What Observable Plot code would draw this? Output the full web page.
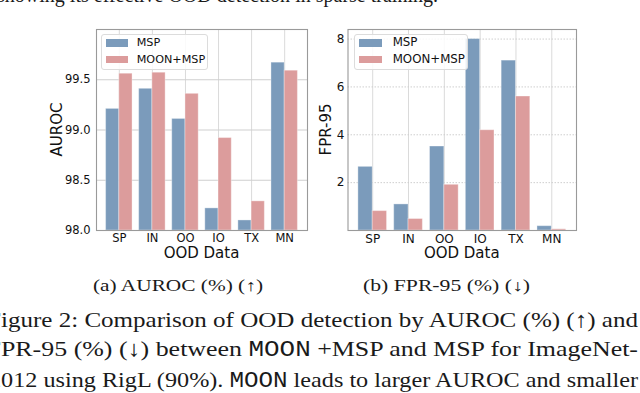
<!DOCTYPE html>
<html><head><meta charset="utf-8">
<script src="https://cdn.jsdelivr.net/npm/d3@7"></script>
<script src="https://cdn.jsdelivr.net/npm/@observablehq/plot@0.6"></script>
<style>
html,body{margin:0;padding:0;background:#fff;}
#wrap{position:relative;width:640px;height:393px;overflow:hidden;background:#fff;}
.chart{position:absolute;top:0;}
.chart svg{overflow:visible;}
.legend{position:absolute;box-sizing:border-box;border:1px solid #dcdcdc;border-radius:3px;background:rgba(255,255,255,0.85);font-family:"DejaVu Sans",sans-serif;color:#111;}
.legend .sw{position:absolute;}
.legend .lb{position:absolute;line-height:1;white-space:nowrap;}
#paper{position:absolute;left:0;top:0;pointer-events:none;}
</style></head><body>
<div id="wrap"></div>
<script>
// ---- data ----
const categories = ["SP", "IN", "OO", "IO", "TX", "MN"];
const series = ["MSP", "MOON+MSP"];
const seriesColors = ["#7b9bbb", "#dc9c9c"];
const aurocMSP  = [99.21, 99.41, 99.11, 98.22, 98.10, 99.67];
const aurocMOON = [99.56, 99.57, 99.36, 98.92, 98.29, 99.59];
const fprMSP  = [2.66, 1.09, 3.51, 8.00, 7.10, 0.18];
const fprMOON = [0.81, 0.48, 1.91, 4.19, 5.60, 0.05];
const aurocTicks = [98.0, 98.5, 99.0, 99.5];
const fprTicks = [2, 4, 6, 8];
const xLabel = "OOD Data";
const aurocLabel = "AUROC";
const fprLabel = "FPR-95";
const captionA = "(a) AUROC (%) (↑)";
const captionB = "(b) FPR-95 (%) (↓)";

const positions = categories.map((c, i) => i);

function rowsOf(a, b) {
  const rows = [];
  categories.forEach((c, i) => {
    rows.push({cat: c, i, s: 0, series: series[0], value: a[i]});
    rows.push({cat: c, i, s: 1, series: series[1], value: b[i]});
  });
  return rows;
}

const wrap = document.getElementById("wrap");
const labelSpecs = [];

function makeChart({a, b, yDomain, yTicks, base, ylabel, width, left, marginLeft, marginRight, tickPad, labelOffset, hdash, fmt, tickFs}) {
  const rows = rowsOf(a, b);
  const marginTop = 29, marginBottom = 35, height = 265;
  const chart = Plot.plot({
    width, height,
    marginLeft, marginRight, marginTop, marginBottom,
    style: {fontFamily: "DejaVu Sans, sans-serif", color: "#111", background: "transparent"},
    x: {type: "linear", domain: [-0.69, 5.69]},
    y: {domain: yDomain},
    color: {domain: series, range: seriesColors},
    marks: [
      Plot.gridX(positions, {stroke: "#dadada", strokeOpacity: 1}),
      Plot.gridY(yTicks, {stroke: "#cfcfcf", strokeOpacity: 1, strokeDasharray: hdash}),
      Plot.rect(rows, {
        x1: d => d.i - 0.4 + 0.4 * d.s,
        x2: d => d.i + 0.4 * d.s,
        y1: d => base,
        y2: "value",
        fill: "series",
        stroke: "#fff", strokeOpacity: 0.35, strokeWidth: 1
      }),
      Plot.frame({stroke: "#9a9a9a", strokeWidth: 1.1}),
      Plot.axisX(positions, {tickSize: 0, tickPadding: 3.5, tickFormat: i => categories[i],
        fontSize: tickFs, label: null}),
      Plot.axisY(yTicks, {tickSize: 0, tickPadding: tickPad, tickFormat: fmt,
        fontSize: tickFs, label: null})
    ]
  });
  // enforce tick label font size
  chart.querySelectorAll('g[aria-label$="tick label"]').forEach(g => {
    g.setAttribute("font-size", tickFs);
    g.style.fontSize = tickFs + "px";
  });
  const div = document.createElement("div");
  div.className = "chart";
  div.style.left = left + "px";
  div.appendChild(chart);
  wrap.appendChild(div);
  const fx0 = left + marginLeft, fx1 = left + width - marginRight;
  const fy0 = marginTop, fy1 = height - marginBottom;
  labelSpecs.push({text: xLabel, x: (fx0 + fx1) / 2, y: fy1 + 27.5, rotate: false});
  labelSpecs.push({text: ylabel, x: fx0 - labelOffset, y: (fy0 + fy1) / 2, rotate: true});
}

makeChart({a: aurocMSP, b: aurocMOON, yDomain: [98, 100.0], yTicks: aurocTicks, base: 98,
  ylabel: aurocLabel, width: 320, left: 0, marginLeft: 96, marginRight: 13, tickPad: 6,
  labelOffset: 39.5, hdash: null, fmt: d3.format(".1f"), tickFs: 11.5});
makeChart({a: fprMSP, b: fprMOON, yDomain: [0, 8.4], yTicks: fprTicks, base: 0,
  ylabel: fprLabel, width: 340, left: 300, marginLeft: 47.5, marginRight: 64, tickPad: 3.5,
  labelOffset: 22, hdash: "1.5,1.5", fmt: d => d, tickFs: 12});

// ---- legends ----
function legend({x, y, w, h, swX, swW, swH, sw1, sw2, lbX, fs}) {
  const box = document.createElement("div");
  box.className = "legend";
  Object.assign(box.style, {left: x + "px", top: y + "px", width: w + "px", height: h + "px"});
  [sw1, sw2].forEach((sy, k) => {
    const sw = document.createElement("div");
    sw.className = "sw";
    Object.assign(sw.style, {left: (swX - x - 1) + "px", top: (sy - y - 1) + "px", width: swW + "px", height: swH + "px", background: seriesColors[k]});
    box.appendChild(sw);
    const lb = document.createElement("div");
    lb.className = "lb";
    lb.textContent = series[k];
    Object.assign(lb.style, {left: (lbX - x - 1) + "px", top: (sy + swH / 2 - y - 1 - fs * 0.5) + "px", fontSize: fs + "px"});
    box.appendChild(lb);
  });
  wrap.appendChild(box);
}
legend({x: 101, y: 34, w: 107, h: 36, swX: 105.7, swW: 22.6, swH: 7.4, sw1: 39.3, sw2: 55.7, lbX: 136.7, fs: 11.2});
legend({x: 354, y: 34, w: 114, h: 36, swX: 359, swW: 23.3, swH: 7.6, sw1: 39.3, sw2: 55.7, lbX: 392.7, fs: 11.8});

// ---- overlay: axis titles + surrounding paper text ----
const paper = d3.select("#wrap").append("svg").attr("id", "paper").attr("width", 640).attr("height", 393);
labelSpecs.forEach(s => {
  const t = paper.append("text")
    .attr("font-family", "'DejaVu Sans', sans-serif").attr("font-size", 15).attr("fill", "#111")
    .attr("text-anchor", "middle").text(s.text);
  if (s.rotate) {
    t.attr("transform", `translate(${s.x},${s.y}) rotate(-90)`).attr("dy", "0.35em");
  } else {
    t.attr("x", s.x).attr("y", s.y);
  }
});
const lines = [
  {parts: [["showing its effective OOD detection in sparse training.", 0]], x: -3, y: 1.8, len: 441, fs: 22},
  {parts: [[captionA, 0]], x: 93, y: 291, len: 170, fs: 16},
  {parts: [[captionB, 0]], x: 363, y: 291, len: 167, fs: 16},
  {parts: [["Figure 2: Comparison of OOD detection by AUROC (%) (↑) and", 0]], x: -13, y: 327, len: 651, fs: 22},
  {parts: [["FPR-95 (%) (↓) between ", 0], ["MOON", 1], [" +MSP and MSP for ImageNet-", 0]], x: -13.5, y: 356, len: 651.5, fs: 22},
  {parts: [["2012 using RigL (90%). ", 0], ["MOON", 1], [" leads to larger AUROC and smaller", 0]], x: -11, y: 386.5, len: 649, fs: 22}
];
lines.forEach(l => {
  const t = paper.append("text").attr("x", l.x).attr("y", l.y)
    .attr("font-family", "'Liberation Serif', serif").attr("font-size", l.fs).attr("fill", "#1a1a1a")
    .attr("textLength", l.len).attr("lengthAdjust", "spacingAndGlyphs")
    .style("white-space", "pre");
  l.parts.forEach(([s, mono]) => {
    const ts = t.append("tspan").text(s);
    if (mono) ts.attr("font-family", "'Liberation Mono', monospace");
  });
});
</script>
</body></html>
